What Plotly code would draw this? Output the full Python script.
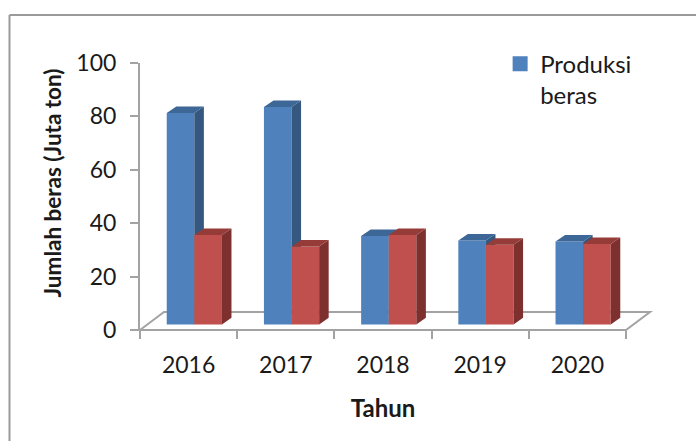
import plotly.graph_objects as go

years = ["2016", "2017", "2018", "2019", "2020"]
produksi = [79.2, 81.4, 33.1, 31.4, 31.0]
kedua = [33.5, 29.2, 33.5, 29.8, 30.1]
y_ticks = [0, 20, 40, 60, 80, 100]
x_edges = [0, 1, 2, 3, 4, 5]
positions = [0, 1, 2, 3, 4]

FONT = "Lato"
TEXT = "#1a1a1a"
AXIS = "#a3a3a3"
W, H = 696, 441
L, R, T, B = 140, 70, 63, 111
PW, PH = W - L - R, H - T - B

BAR_W = 0.284
BLUE_OFF = 0.275
RED_OFF = BLUE_OFF + BAR_W
BASE = 2.1
DX, DY = 0.098, 2.45
FLOOR_DX, FLOOR_DY = 0.247, 6.75


def side_xy(off, vals):
    xs, ys = [], []
    for p, v in zip(positions, vals):
        r = p + off + BAR_W
        xs += [r, r + DX, r + DX, r, r, None]
        ys += [BASE, BASE + DY, BASE + v + DY, BASE + v, BASE, None]
    return xs, ys


def top_xy(off, vals):
    xs, ys = [], []
    for p, v in zip(positions, vals):
        l = p + off
        r = l + BAR_W
        t = BASE + v
        xs += [l, l + DX, r + DX, r, l, None]
        ys += [t, t + DY, t + DY, t, t, None]
    return xs, ys


def add_series(fig, vals, off, front, side, top, xa, ya, name):
    fig.add_bar(x=positions, y=vals, base=BASE, offset=off, width=BAR_W,
                marker=dict(color=front, line=dict(width=0)), name=name,
                showlegend=False, xaxis=xa, yaxis=ya)
    sx, sy = side_xy(off, vals)
    fig.add_scatter(x=sx, y=sy, mode="lines", fill="toself", fillcolor=side,
                    line=dict(width=0, color=side), showlegend=False, xaxis=xa, yaxis=ya)
    tx, ty = top_xy(off, vals)
    fig.add_scatter(x=tx, y=ty, mode="lines", fill="toself", fillcolor=top,
                    line=dict(width=0, color=top), showlegend=False, xaxis=xa, yaxis=ya)


fig = go.Figure()
add_series(fig, produksi, BLUE_OFF, "#4f81bd", "#34587f", "#3d6796", "x", "y", "Produksi beras")
add_series(fig, kedua, RED_OFF, "#c0504d", "#7d302e", "#953c39", "x2", "y2", "Seri 2")
fig.add_scatter(x=[None], y=[None], mode="markers", name="Produksi<br>beras",
                marker=dict(symbol="square", size=15, color="#4f81bd"), showlegend=True)


def px(v):
    return v / x_edges[-1]


def py(v):
    return v / y_ticks[-1]


floor = (f"M {px(0)} {py(0)} L {px(FLOOR_DX)} {py(FLOOR_DY)} "
         f"L {px(5 + FLOOR_DX)} {py(FLOOR_DY)} L {px(5)} {py(0)} Z")

fig.update_layout(
    width=W, height=H,
    margin=dict(l=L, r=R, t=T, b=B, autoexpand=False),
    paper_bgcolor="white", plot_bgcolor="rgba(0,0,0,0)",
    font=dict(family=FONT, size=23, color=TEXT),
    showlegend=True,
    legend=dict(x=0.741, y=1.08, xanchor="left", yanchor="top", valign="top",
                bgcolor="rgba(0,0,0,0)", font=dict(size=24), itemwidth=30),
    xaxis=dict(range=[0, 5], tickmode="array", tickvals=[p + 0.5 for p in positions],
               ticktext=years, ticks="", showgrid=False, zeroline=False,
               showline=False, tickfont=dict(size=23), ticklabelstandoff=19,
               minor=dict(tickmode="array", tickvals=x_edges, ticks="outside",
                          ticklen=8, tickwidth=2, tickcolor=AXIS, showgrid=False),
               title=dict(text="<b>Tahun</b>", standoff=23, font=dict(size=24))),
    yaxis=dict(range=[0, 100], tickmode="array", tickvals=y_ticks, ticks="outside",
               ticklen=8, tickwidth=2, tickcolor=AXIS, showgrid=False, zeroline=False,
               showline=True, linecolor=AXIS, linewidth=2, tickfont=dict(size=23),
               ticklabelstandoff=9),
    xaxis2=dict(overlaying="x", matches="x", visible=False),
    yaxis2=dict(overlaying="y", matches="y", visible=False),
    annotations=[
        dict(text="<b>Jumlah beras (Juta ton)</b>", xref="paper", yref="paper",
             x=(52 - L) / PW, y=(H - B - 183.5) / PH, textangle=-90, showarrow=False,
             font=dict(size=22.5), xanchor="center", yanchor="middle"),
    ],
    shapes=[
        dict(type="path", xref="paper", yref="paper", path=floor, layer="below",
             line=dict(color=AXIS, width=2)),
        dict(type="line", xref="paper", yref="paper", x0=(9.5 - L) / PW, x1=(W - L) / PW,
             y0=(H - B - 15) / PH, y1=(H - B - 15) / PH, line=dict(color="#9a9a9a", width=2)),
        dict(type="line", xref="paper", yref="paper", x0=(9.5 - L) / PW, x1=(9.5 - L) / PW,
             y0=(H - B - 15) / PH, y1=-B / PH, line=dict(color="#9a9a9a", width=2)),
    ],
)

fig.write_html("out.html", post_script="document.body.style.margin='0';", config={"displayModeBar": False})
